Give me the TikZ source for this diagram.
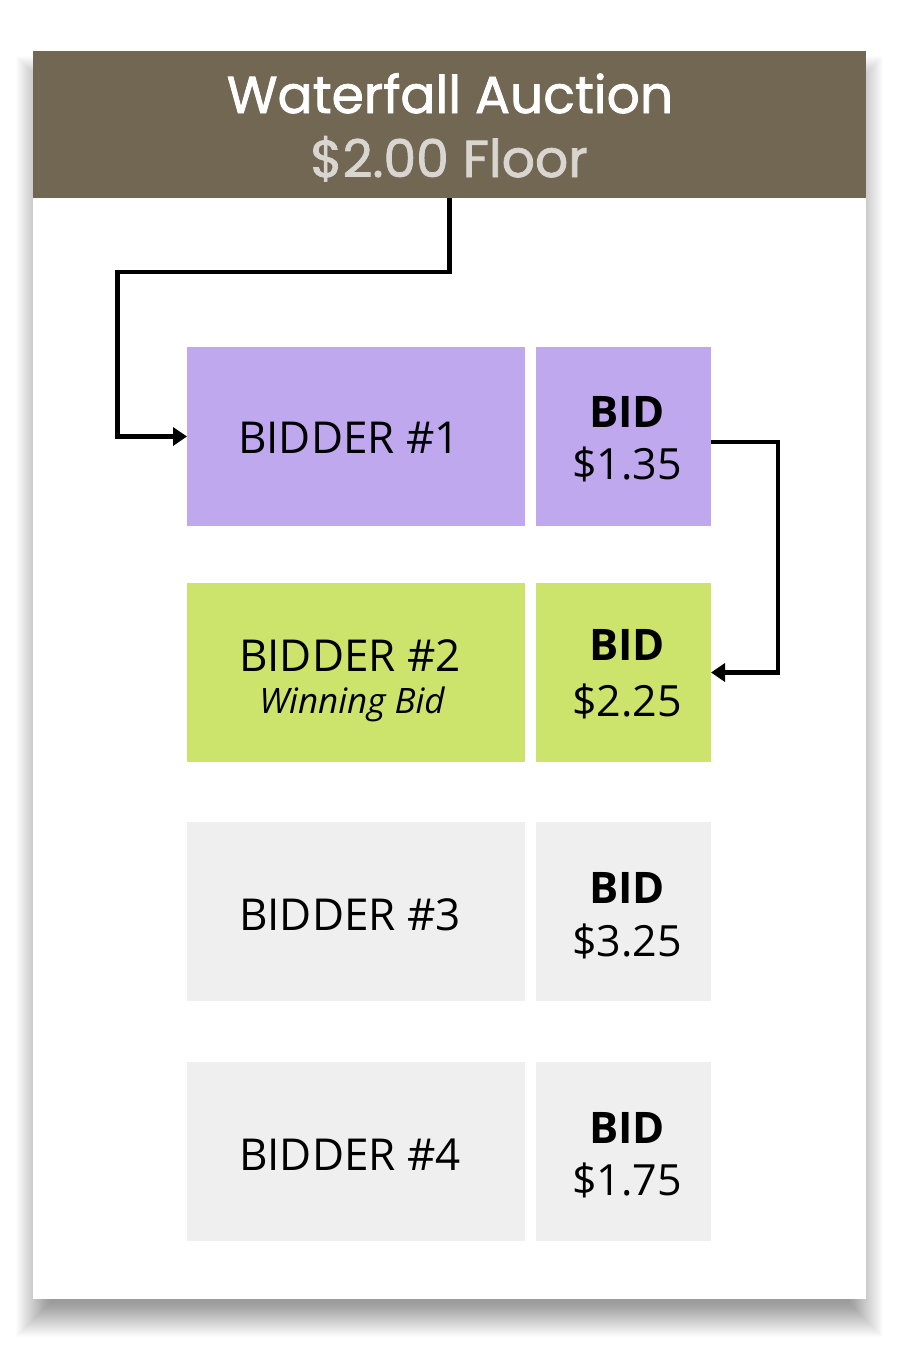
\documentclass[tikz,border=0pt]{standalone}
\usepackage{fontspec}
\setmainfont{Open Sans}
\newfontfamily\titlefont{Poppins}[FakeBold=1.5]
\usetikzlibrary{arrows.meta,calc}
\definecolor{headbrown}{HTML}{716753}
\definecolor{floorgray}{HTML}{D9D5D1}
\definecolor{bidpurple}{HTML}{C0A8EF}
\definecolor{bidgreen}{HTML}{CCE36C}
\definecolor{bidgray}{HTML}{EFEFEF}
\tikzset{
  cell/.style={rectangle, inner sep=0pt, outer sep=0pt, draw=none},
  bigcell/.style={cell, minimum width=338pt, minimum height=179pt},
  smallcell/.style={cell, minimum width=175pt, minimum height=179pt},
  biddertext/.style={anchor=base, inner sep=0pt, font=\fontsize{44}{44}\selectfont},
  bidlabel/.style={anchor=base, inner sep=0pt, font=\fontsize{43.5}{43.5}\selectfont\bfseries},
  bidvalue/.style={anchor=base, inner sep=0pt, font=\fontsize{43}{43}\selectfont},
  flow/.style={draw=black, line width=4.3pt, -{Triangle[length=14pt,width=18pt]}},
}
\begin{document}
\begin{tikzpicture}[x=1pt,y=-1pt]
\useasboundingbox (0,0) rectangle (900,1349);
\fill[white] (0,0) rectangle (900,1349);
% soft drop shadow
\foreach \i in {0,...,34}{
  \fill[black, opacity=0.011] (50-\i,90-\i) rectangle (849+\i,1303+\i);
}
% card
\fill[white] (33,51) rectangle (866,1299);
\node[cell, fill=headbrown, minimum width=833pt, minimum height=147pt, anchor=north west] (header) at (33,51) {};
\node[anchor=base, inner sep=0pt, text=white, font=\titlefont\fontsize{52}{52}\selectfont] (title) at (450,113) {Waterfall Auction};
\node[anchor=base, inner sep=0pt, text=floorgray, font=\titlefont\fontsize{52}{52}\selectfont] (floor) at (449,177) {\$2.00 Floor};
% row 1
\node[bigcell, fill=bidpurple, anchor=north west] (b1L) at (187,347) {};
\node[smallcell, fill=bidpurple, anchor=north west] (b1R) at (536,347) {};
\node[biddertext] (t1) at (349,453) {BIDDER \#1};
\node[bidlabel] (l1) at (627,427) {BID};
\node[bidvalue] (v1) at (627,479) {\$1.35};
% row 2
\node[bigcell, fill=bidgreen, anchor=north west] (b2L) at (187,583) {};
\node[smallcell, fill=bidgreen, anchor=north west] (b2R) at (536,583) {};
\node[biddertext] (t2) at (350,671) {BIDDER \#2};
\node[anchor=base, inner sep=0pt, font=\fontsize{35}{35}\selectfont\itshape] (w2) at (352,713) {Winning Bid};
\node[bidlabel] (l2) at (627,660) {BID};
\node[bidvalue] (v2) at (627,716) {\$2.25};
% row 3
\node[bigcell, fill=bidgray, anchor=north west] (b3L) at (187,822) {};
\node[smallcell, fill=bidgray, anchor=north west] (b3R) at (536,822) {};
\node[biddertext] (t3) at (350,930) {BIDDER \#3};
\node[bidlabel] (l3) at (627,903) {BID};
\node[bidvalue] (v3) at (627,956) {\$3.25};
% row 4
\node[bigcell, fill=bidgray, anchor=north west] (b4L) at (187,1062) {};
\node[smallcell, fill=bidgray, anchor=north west] (b4R) at (536,1062) {};
\node[biddertext] (t4) at (350,1170) {BIDDER \#4};
\node[bidlabel] (l4) at (627,1143) {BID};
\node[bidvalue] (v4) at (627,1195) {\$1.75};
% connectors
\draw[flow] (header.south) -- ++(0,74) -- ++(-332,0) |- (b1L.west);
\draw[flow] ([yshift=-5.5pt]b1R.east) -- ++(67,0) |- (b2R.east);
\end{tikzpicture}
\end{document}
